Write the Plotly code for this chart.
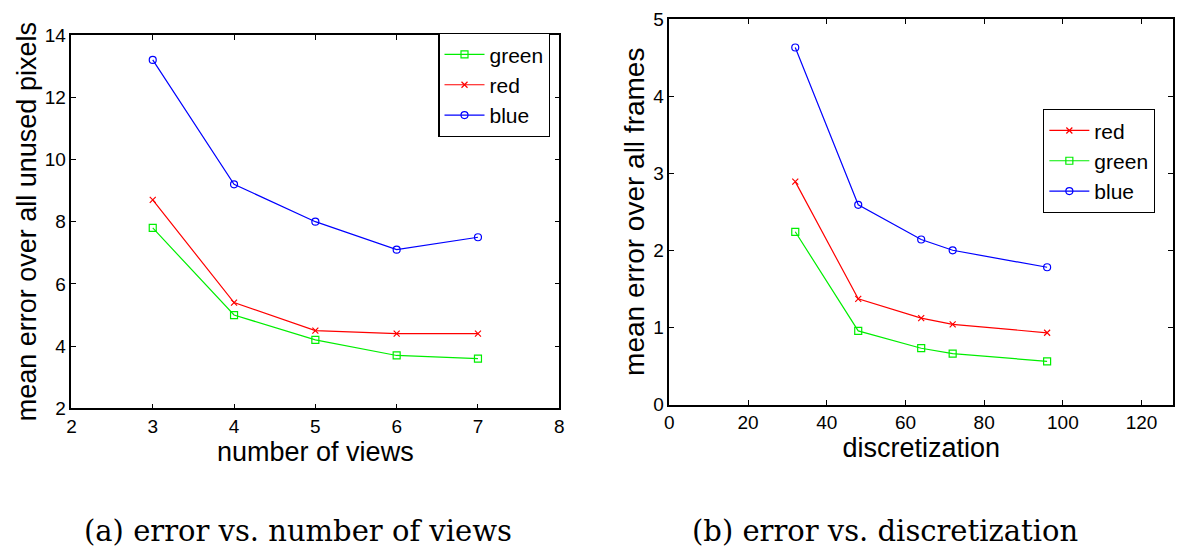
import plotly.graph_objects as go

# Panel (a): error vs number of views
views = [3, 4, 5, 6, 7]
a_green = [7.8, 5.0, 4.2, 3.7, 3.6]
a_red = [8.7, 5.4, 4.5, 4.4, 4.4]
a_blue = [13.2, 9.2, 8.0, 7.1, 7.5]

# Panel (b): error vs discretization
disc = [32, 48, 64, 72, 96]
b_red = [2.89, 1.37, 1.12, 1.04, 0.93]
b_green = [2.24, 0.955, 0.73, 0.66, 0.56]
b_blue = [4.63, 2.59, 2.14, 2.0, 1.78]

a_xticks = [2, 3, 4, 5, 6, 7, 8]
a_yticks = [2, 4, 6, 8, 10, 12, 14]
b_xticks = [0, 20, 40, 60, 80, 100, 120]
b_yticks = [0, 1, 2, 3, 4, 5]

GREEN = "#00ee00"
RED = "#ff0000"
BLUE = "#0000ff"
FONT = "Liberation Sans"
W, H = 1183, 556

fig = go.Figure()

def add(x, y, name, color, symbol, xa, ya, legend):
    fig.add_trace(go.Scatter(
        x=x, y=y, name=name, mode="lines+markers",
        line=dict(color=color, width=1.2),
        marker=dict(symbol=symbol, size=7 if symbol != "x-thin" else 6,
                    color=color, line=dict(color=color, width=1.2)),
        xaxis=xa, yaxis=ya, legend=legend,
    ))

add(views, a_green, "green", GREEN, "square-open", "x", "y", "legend")
add(views, a_red, "red", RED, "x-thin", "x", "y", "legend")
add(views, a_blue, "blue", BLUE, "circle-open", "x", "y", "legend")

add(disc, b_red, "red", RED, "x-thin", "x2", "y2", "legend2")
add(disc, b_green, "green", GREEN, "square-open", "x2", "y2", "legend2")
add(disc, b_blue, "blue", BLUE, "circle-open", "x2", "y2", "legend2")

axis_common = dict(
    showline=True, linecolor="black", linewidth=1.5, mirror="ticks",
    ticks="inside", ticklen=5, tickwidth=1, tickcolor="black",
    showgrid=False, zeroline=False,
    tickfont=dict(family=FONT, size=19, color="black"),
)

fig.update_layout(
    width=W, height=H,
    margin=dict(l=0, r=0, t=0, b=0),
    paper_bgcolor="white", plot_bgcolor="white",
    font=dict(family=FONT, color="black"),
    xaxis=dict(axis_common, domain=[67 / W, 559 / W], range=[2, 8],
               tickvals=a_xticks, anchor="y",
               title=dict(text="number of views", font=dict(size=27), standoff=0)),
    yaxis=dict(axis_common, domain=[1 - 414 / H, 1 - 26 / H], range=[2, 14],
               tickvals=a_yticks, anchor="x",
               title=dict(text="mean error over all unused pixels", font=dict(size=27), standoff=0)),
    xaxis2=dict(axis_common, domain=[670 / W, 1178 / W], range=[0, 128],
                tickvals=b_xticks, anchor="y2",
                title=dict(text="discretization", font=dict(size=27), standoff=0)),
    yaxis2=dict(axis_common, domain=[1 - 410 / H, 1 - 9.3 / H], range=[0, 5],
                tickvals=b_yticks, anchor="x2",
                title=dict(text="mean error over all frames", font=dict(size=28), standoff=0)),
    legend=dict(x=437 / W, y=1 - 24 / H, xanchor="left", yanchor="top",
                bordercolor="black", borderwidth=1.2, bgcolor="white",
                font=dict(family=FONT, size=21), tracegroupgap=0,
                itemwidth=40),
    legend2=dict(x=1047 / W, y=1 - 103 / H, xanchor="left", yanchor="top",
                 bordercolor="black", borderwidth=1.2, bgcolor="white",
                 font=dict(family=FONT, size=21), tracegroupgap=0,
                 itemwidth=40),
    showlegend=True,
    annotations=[
        dict(text="(a) error vs. number of views", x=296 / W, y=1 - 541 / H,
             xref="paper", yref="paper", showarrow=False, xanchor="center", yanchor="middle",
             font=dict(family="DejaVu Serif", size=29, color="black")),
        dict(text="(b) error vs. discretization", x=888 / W, y=1 - 541 / H,
             xref="paper", yref="paper", showarrow=False, xanchor="center", yanchor="middle",
             font=dict(family="DejaVu Serif", size=29, color="black")),
    ],
)

fig.write_html("out.html")
